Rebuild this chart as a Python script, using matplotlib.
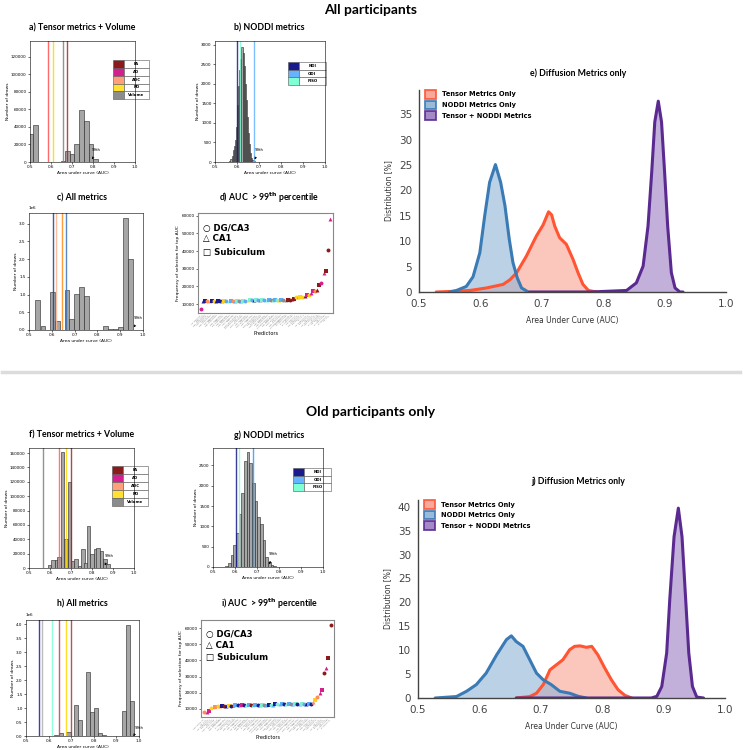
import numpy as np
import matplotlib
matplotlib.use('Agg')
import matplotlib.pyplot as plt
from matplotlib.patches import Patch
from matplotlib.lines import Line2D

W, H = 743, 750
TITLE_FONT = ['Lato', 'DejaVu Sans']

# ---------------- data ----------------
# a) tensor metrics + volume, all participants (bin centre, number of draws)
a_centers = [0.506, 0.527, 0.645, 0.660, 0.678, 0.700, 0.722, 0.746, 0.770, 0.790, 0.812]
a_counts = [32000, 42000, 500, 1200, 13000, 9000, 21000, 59000, 47000, 20000, 3000]
a_lines = [(0.587, '#ff5050'), (0.611, '#ffd700'), (0.659, '#808080'), (0.675, '#a52a2a')]

# b) NODDI metrics, all participants
b_centers = [0.5625, 0.5675, 0.5725, 0.5775, 0.5825, 0.5875, 0.5925, 0.5975, 0.6025, 0.6075,
             0.6125, 0.6175, 0.6225, 0.6275, 0.6325, 0.6375, 0.6425, 0.6475, 0.6525, 0.6575,
             0.6625, 0.6675, 0.6725, 0.6775]
b_counts = [10, 30, 70, 160, 300, 420, 560, 900, 1450, 1950,
            2350, 2650, 2940, 2800, 2450, 2000, 1600, 1150, 750, 450,
            230, 110, 40, 15]
b_lines = [(0.598, '#1a1a8c'), (0.615, '#7fffd4'), (0.677, '#66b3ff')]

# c) all metrics, all participants
c_centers = [0.539, 0.561, 0.602, 0.624, 0.667, 0.687, 0.707, 0.729, 0.752,
             0.837, 0.857, 0.878, 0.901, 0.923, 0.945]
c_counts = [850000, 120000, 1070000, 240000, 1120000, 300000, 1020000, 1200000, 960000,
            120000, 20000, 40000, 90000, 3150000, 2000000]
c_lines = [(0.605, '#1f3f99'), (0.620, '#ffb38a'), (0.646, '#ff8c1a'), (0.661, '#3d72b8')]

# f) tensor metrics + volume, old participants
f_centers = [0.598, 0.614, 0.630, 0.643, 0.660, 0.677, 0.692, 0.708, 0.724, 0.741,
             0.757, 0.771, 0.784, 0.800, 0.816, 0.829, 0.845, 0.861, 0.876]
f_counts = [4000, 11000, 11000, 15000, 162000, 40000, 119000, 10000, 13000, 3000,
            26000, 7000, 59000, 20000, 27000, 28000, 24000, 13000, 5000]
f_lines = [(0.567, '#808080'), (0.645, '#ff6060'), (0.677, '#ffd700'), (0.700, '#a0282c')]

# g) NODDI metrics, old participants
g_centers = [0.560, 0.574, 0.586, 0.598, 0.610, 0.623, 0.635, 0.647, 0.659, 0.671,
             0.683, 0.695, 0.708, 0.720, 0.732, 0.744, 0.756, 0.768, 0.780]
g_counts = [20, 100, 300, 540, 830, 1300, 1830, 2620, 2820, 2550,
            2080, 1620, 1220, 1050, 660, 250, 130, 60, 20]
g_lines = [(0.603, '#1a1a8c'), (0.618, '#7fffd4'), (0.682, '#3399ff')]

# h) all metrics, old participants
h_centers = [0.631, 0.655, 0.688, 0.721, 0.739, 0.775, 0.793, 0.810, 0.828, 0.845,
             0.934, 0.951, 0.970]
h_counts = [20000, 120000, 140000, 1100000, 570000, 2280000, 860000, 1000000, 120000, 20000,
            910000, 3970000, 1270000]
h_lines = [(0.559, '#1f1f99'), (0.569, '#b0b0b0'), (0.613, '#7fffd4'), (0.646, '#c0405a'),
           (0.679, '#ffd700'), (0.701, '#b03040')]

# d) / i) predictors with AUC > 99th percentile
d_values = [7500, 11500, 11500, 11550, 11600, 11600, 11650, 11650, 11700, 11700,
            11700, 11750, 11800, 11800, 11850, 11900, 11900, 11950, 12000, 12000,
            12000, 12050, 12100, 12100, 12100, 12150, 12200, 12200, 12200, 12250,
            12300, 12300, 12300, 12350, 12400, 12400, 12400, 12450, 12450, 12500,
            12500, 12500, 12600, 12700, 12800, 14000, 14100, 14200, 14300, 14400,
            15000, 15300, 16500, 17200, 17600, 18000, 21000, 22000, 27800, 28500,
            40500, 58000]
d_metric = ['AD', 'NDI', 'NDI', 'ADC', 'ADC', 'NDI', 'RD', 'NDI', 'NDI', 'NDI',
            'ODI', 'RD', 'ODI', 'FISO', 'ODI', 'ADC', 'ODI', 'FISO', 'Volume', 'ODI',
            'FISO', 'ODI', 'RD', 'FISO', 'ODI', 'NDI', 'FISO', 'ODI', 'Volume', 'FISO',
            'ODI', 'FISO', 'ODI', 'Volume', 'FISO', 'ODI', 'FISO', 'RD', 'ODI', 'Volume',
            'Volume', 'FA', 'FA', 'FA', 'FA', 'RD', 'ADC', 'RD', 'RD', 'FA',
            'AD', 'RD', 'AD', 'AD', 'ADC', 'FA', 'FA', 'AD', 'AD', 'FA',
            'FA', 'AD']
i_values = [8200, 8300, 8700, 10800, 10900, 11200, 11500, 11600, 11800, 11900,
            12000, 12100, 12100, 12200, 12200, 12300, 12300, 12300, 12400, 12400,
            12400, 12500, 12500, 12500, 12600, 12600, 12600, 12600, 12700, 12700,
            12700, 12700, 12800, 12800, 12800, 12800, 12900, 12900, 12900, 12900,
            13000, 13000, 13000, 13000, 13000, 13100, 13100, 13100, 13200, 14000,
            15500, 17500, 20000, 22000, 32500, 35000, 41500, 62000]
i_metric = ['ADC', 'AD', 'AD', 'RD', 'RD', 'ADC', 'RD', 'ADC', 'NDI', 'FA',
            'NDI', 'RD', 'NDI', 'FA', 'ODI', 'NDI', 'ODI', 'AD', 'NDI', 'FISO',
            'ODI', 'FA', 'FISO', 'ODI', 'NDI', 'ODI', 'FISO', 'Volume', 'ODI', 'NDI',
            'FISO', 'ODI', 'NDI', 'FISO', 'ODI', 'ODI', 'NDI', 'FISO', 'ODI', 'Volume',
            'ODI', 'FISO', 'NDI', 'ODI', 'FISO', 'ODI', 'NDI', 'ODI', 'NDI', 'ADC',
            'RD', 'ADC', 'AD', 'AD', 'FA', 'AD', 'FA', 'FA']
regions = ['DG/CA3', 'CA1', 'Subiculum']

# e) / j) distribution of AUC (%)
e_tensor_x = [0.528, 0.55, 0.583, 0.61, 0.637, 0.648, 0.659, 0.675, 0.691, 0.702,
              0.711, 0.716, 0.721, 0.729, 0.740, 0.751, 0.759, 0.767, 0.776, 0.789]
e_tensor_y = [0, 0.1, 0.3, 0.8, 1.5, 2.4, 3.8, 7.1, 11.0, 13.2,
              15.8, 15.2, 13.0, 10.7, 9.4, 6.4, 3.8, 1.5, 0.3, 0]
e_noddi_x = [0.55, 0.561, 0.577, 0.588, 0.599, 0.607, 0.615, 0.6245, 0.633, 0.640,
             0.647, 0.653, 0.660, 0.667, 0.678]
e_noddi_y = [0, 0.3, 1.1, 3.0, 7.7, 15.0, 21.6, 25.1, 21.6, 17.0,
             10.4, 5.8, 2.8, 0.8, 0]
e_combo_x = [0.68, 0.778, 0.838, 0.854, 0.865, 0.873, 0.879, 0.884, 0.8897, 0.895,
             0.90, 0.905, 0.911, 0.917, 0.925, 0.93]
e_combo_y = [0, 0, 0.3, 1.8, 5.1, 13.0, 23.6, 33.5, 37.6, 33.5,
             23.6, 13.0, 3.8, 0.8, 0, 0]

j_tensor_x = [0.66, 0.682, 0.693, 0.704, 0.715, 0.726, 0.736, 0.747, 0.755, 0.764,
              0.774, 0.783, 0.793, 0.804, 0.815, 0.826, 0.837, 0.848]
j_tensor_y = [0, 0.3, 1.0, 2.8, 5.9, 7.0, 8.0, 10.1, 10.8, 10.9,
              10.6, 10.8, 9.0, 6.3, 3.8, 1.7, 0.55, 0]
j_noddi_x = [0.528, 0.5625, 0.579, 0.595, 0.611, 0.628, 0.644, 0.652, 0.660, 0.671,
             0.682, 0.693, 0.704, 0.717, 0.731, 0.747, 0.761, 0.774]
j_noddi_y = [0, 0.3, 1.4, 2.8, 5.2, 9.0, 12.2, 13.0, 11.8, 10.8,
             8.0, 5.2, 3.8, 2.8, 1.4, 1.0, 0.35, 0]
j_combo_x = [0.66, 0.88, 0.889, 0.897, 0.905, 0.910, 0.917, 0.924, 0.930, 0.936,
             0.941, 0.947, 0.954, 0.965]
j_combo_y = [0, 0, 0.35, 2.4, 9.4, 20.5, 33.7, 39.7, 33.7, 20.5,
             9.4, 2.4, 0.2, 0]

tensor_names = ['FA', 'AD', 'ADC', 'RD', 'Volume']
noddi_names = ['NDI', 'ODI', 'FISO']
metric_colors = {'FA': '#8b1a1a', 'AD': '#d4208f', 'ADC': '#ffa07a', 'RD': '#ffe033',
                 'Volume': '#8c8c8c', 'NDI': '#1a1a8c', 'ODI': '#66b3ff', 'FISO': '#7fffd4'}
scatter_colors = dict(metric_colors, ADC='#ff8c5a', RD='#ffd21a', ODI='#5aaaf5', FISO='#7ff0d4')
region_markers = {'DG/CA3': 'o', 'CA1': '^', 'Subiculum': 's'}

# ---------------- figure ----------------
fig = plt.figure(figsize=(W / 100, H / 100), dpi=100)


def box(x0, y0, x1, y1):
    # pixel box (top-left origin) -> axes
    return fig.add_axes([x0 / W, 1 - y1 / H, (x1 - x0) / W, (y1 - y0) / H])


def ftext(x, y, s, size, **kw):
    fig.text(x / W, 1 - y / H, s, ha='center', va='center', fontsize=size,
             fontweight='bold', family=TITLE_FONT, **kw)


def hist_panel(ax, centers, counts, width, lines, ymax, arrow_x, text_y):
    ax.bar(centers, counts, width=width, color='#a6a6a6', edgecolor='#222222', linewidth=0.4)
    for x, c in lines:
        ax.axvline(x, color=c, lw=1.0, alpha=0.85)
    ax.set_xlim(0.5, 1.0)
    ax.set_ylim(0, ymax)
    ax.set_xticks([0.5, 0.6, 0.7, 0.8, 0.9, 1.0])
    ax.tick_params(labelsize=3, length=1.5, width=0.4, pad=1)
    ax.yaxis.get_offset_text().set_fontsize(3)
    for s in ax.spines.values():
        s.set_linewidth(0.4)
    ax.set_xlabel('Area under curve (AUC)', fontsize=3.2, labelpad=1)
    ax.set_ylabel('Number of draws', fontsize=3.2, labelpad=1)
    ax.annotate('99th', xy=(arrow_x, 0), xytext=(arrow_x + 0.005, text_y * ymax),
                fontsize=2.8, arrowprops=dict(arrowstyle='->', lw=0.6, color='black'))


def legend_table(ax, names, bbox):
    tb = ax.table(cellText=[['', n] for n in names],
                  cellColours=[[metric_colors[n], 'white'] for n in names],
                  colWidths=[0.3, 0.7], cellLoc='center', bbox=bbox)
    tb.auto_set_font_size(False)
    tb.set_fontsize(2.8)
    for (r, c), cell in tb.get_celld().items():
        cell.set_linewidth(0.4)
        cell.set_edgecolor('#555555')
        if c == 1:
            cell.get_text().set_fontweight('bold')


def scatter_panel(ax, values, metrics, ymin, ymax):
    labels = []
    for k, (v, m) in enumerate(zip(values, metrics)):
        reg = regions[k % 3]
        ax.scatter(k, v, s=8, color=scatter_colors[m], marker=region_markers[reg], lw=0)
        labels.append(m + ' ' + reg)
    ax.set_xlim(-1.5, len(values) + 0.5)
    ax.set_ylim(ymin, ymax)
    ax.set_xticks(range(len(values)))
    ax.set_xticklabels(labels, rotation=45, ha='right', fontsize=1.6, color='#777777')
    ax.set_yticks([10000, 20000, 30000, 40000, 50000, 60000])
    ax.tick_params(axis='y', labelsize=3, length=1.5, width=0.4, pad=1)
    ax.tick_params(axis='x', length=0.8, width=0.3, pad=0.5)
    for s in ax.spines.values():
        s.set_linewidth(0.8)
        s.set_color('#888888')
    ax.set_ylabel('Frequency of selection for top AUC', fontsize=3.2, labelpad=1)
    ax.set_xlabel('Predictors', fontsize=3.6, labelpad=2)
    for ty, lab in zip([0.85, 0.74, 0.61], ['○ DG/CA3', '△ CA1', '□ Subiculum']):
        ax.text(0.04, ty, lab, transform=ax.transAxes, fontsize=6.2, fontweight='bold',
                family=['DejaVu Sans'], va='center')


def kde_panel(ax, curves, ymax, yticks):
    handles = []
    for x, y, line, fill, name in curves:
        ax.fill_between(x, y, color=fill, alpha=0.6, lw=0)
        ax.plot(x, y, color=line, lw=2.2, solid_joinstyle='round', solid_capstyle='round')
        handles.append(Patch(facecolor=fill, edgecolor=line, lw=1.3, alpha=0.9, label=name))
    ax.set_xlim(0.5, 1.0)
    ax.set_ylim(0, ymax)
    ax.set_xticks([0.5, 0.6, 0.7, 0.8, 0.9, 1.0])
    ax.set_xticklabels(['0.5', '0.6', '0.7', '0.8', '0.9', '1.0'])
    ax.set_yticks(yticks)
    ax.tick_params(labelsize=7.5, length=0, colors='#444444')
    ax.tick_params(axis='x', pad=5)
    ax.tick_params(axis='y', pad=5)
    for side in ['top', 'right']:
        ax.spines[side].set_visible(False)
    for side in ['left', 'bottom']:
        ax.spines[side].set_linewidth(1.0)
        ax.spines[side].set_color('#444444')
    ax.set_xlabel('Area Under Curve (AUC)', fontsize=5.5, color='#333333', labelpad=5)
    ax.set_ylabel('Distribution [%]', fontsize=5.5, color='#333333', labelpad=4)
    ax.legend(handles=handles, loc='upper left', bbox_to_anchor=(0.0, 1.03), frameon=False,
              prop=dict(size=4.8, weight='bold'), handlelength=1.6, handleheight=1.6,
              labelspacing=0.3, handletextpad=0.9)


# section headers and separator
ftext(371, 10, 'All participants', 10)
ftext(371, 412, 'Old participants only', 10)
fig.add_artist(Line2D([2 / W, 740 / W], [1 - 372 / H] * 2, color='#dcdcdc', lw=2.5))

# top half
ax = box(30, 41, 135, 162)
hist_panel(ax, a_centers, a_counts, 0.021, a_lines, 138000, 0.79, 0.09)
legend_table(ax, tensor_names, [0.79, 0.52, 0.343, 0.32])
ftext(82, 28, 'a) Tensor metrics + Volume', 6.3)

ax = box(215, 41, 325, 162)
hist_panel(ax, b_centers, b_counts, 0.005, b_lines, 3100, 0.675, 0.09)
legend_table(ax, noddi_names, [0.66, 0.636, 0.345, 0.19])
ftext(269, 28, 'b) NODDI metrics', 6.3)

ax = box(29, 213, 143, 330)
hist_panel(ax, c_centers, c_counts, 0.021, c_lines, 3300000, 0.955, 0.09)
ftext(82, 198, 'c) All metrics', 6.3)

ax = box(198, 213, 333, 313)
scatter_panel(ax, d_values, d_metric, 5000, 61500)
ftext(269, 198, r'd) AUC  > 99$^{\mathbf{th}}$ percentile', 6.3)

ax = box(419, 90, 726, 292)
kde_panel(ax, [(e_tensor_x, e_tensor_y, '#ff5533', '#f9a090', 'Tensor Metrics Only'),
               (e_noddi_x, e_noddi_y, '#3a7ab5', '#8fb3d6', 'NODDI Metrics Only'),
               (e_combo_x, e_combo_y, '#5b2a91', '#9a7cc4', 'Tensor + NODDI Metrics')],
          39.8, [0, 5, 10, 15, 20, 25, 30, 35])
ftext(578, 73, 'e) Diffusion Metrics only', 6.3)

# bottom half
ax = box(29, 448, 134, 568)
hist_panel(ax, f_centers, f_counts, 0.0165, f_lines, 167000, 0.855, 0.09)
legend_table(ax, tensor_names, [0.79, 0.517, 0.343, 0.333])
ftext(82, 435, 'f) Tensor metrics + Volume', 6.3)

ax = box(213, 448, 323, 567)
hist_panel(ax, g_centers, g_counts, 0.0121, g_lines, 2930, 0.75, 0.1)
legend_table(ax, noddi_names, [0.727, 0.64, 0.345, 0.19])
ftext(269, 435, 'g) NODDI metrics', 6.3)

ax = box(26, 620, 139, 736)
hist_panel(ax, h_centers, h_counts, 0.018, h_lines, 4150000, 0.975, 0.06)
ftext(82, 604, 'h) All metrics', 6.3)

ax = box(201, 620, 334, 717)
scatter_panel(ax, i_values, i_metric, 5000, 65000)
ftext(270, 604, r'i) AUC  > 99$^{\mathbf{th}}$ percentile', 6.3)

ax = box(418, 500, 725, 698)
kde_panel(ax, [(j_tensor_x, j_tensor_y, '#ff5533', '#f9a090', 'Tensor Metrics Only'),
               (j_noddi_x, j_noddi_y, '#3a7ab5', '#8fb3d6', 'NODDI Metrics Only'),
               (j_combo_x, j_combo_y, '#5b2a91', '#9a7cc4', 'Tensor + NODDI Metrics')],
          41.4, [0, 5, 10, 15, 20, 25, 30, 35, 40])
ftext(578, 481, 'j) Diffusion Metrics only', 6.3)

fig.savefig('out.png', dpi=100)
